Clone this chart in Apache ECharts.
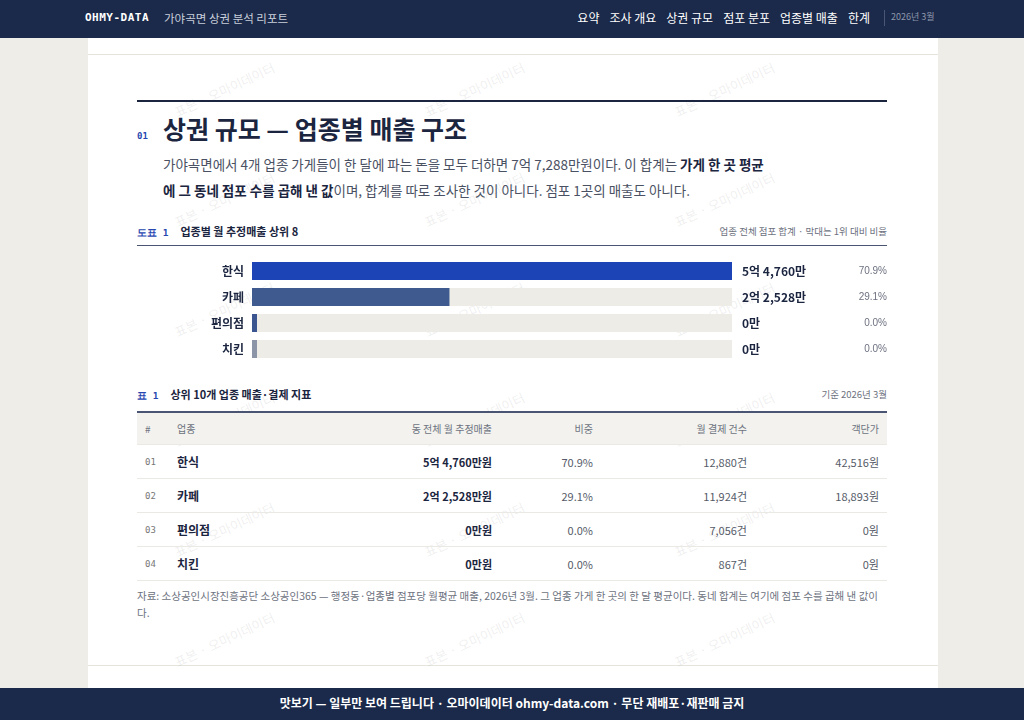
<!DOCTYPE html>
<html>
<head>
<meta charset="utf-8">
<script src="https://cdn.jsdelivr.net/npm/echarts@6.0.0/dist/echarts.min.js"></script>
<style>
  body, html { margin: 0; padding: 0; width: 1024px; height: 720px; overflow: hidden;
    background: #eeede8; font-family: "Noto Sans CJK KR", "Noto Sans", sans-serif; color: #1b2540; }
  #top { position: absolute; left: 0; top: 0; width: 1024px; height: 38px; background: #1b2a4a; color: #fff; }
  #top .brand { position: absolute; left: 85px; top: 11px; font: bold 11px "DejaVu Sans Mono", monospace; letter-spacing: 0.5px; }
  #top .sub { position: absolute; left: 164px; top: 10px; font-size: 11.5px; color: #c9cfdb; }
  #top .nav { position: absolute; right: 154px; top: 9px; font-size: 12px; }
  #top .nav span { margin-left: 10px; }
  #top .date { position: absolute; left: 884px; top: 10px; font-size: 9px; color: #8d97ab; border-left: 1px solid #4a5673; padding-left: 6px; height: 16px; }
  #card { position: absolute; left: 88px; top: 38px; width: 850px; height: 650px; background: #fff; }
  #card .hr0 { position: absolute; left: 0; top: 16px; width: 850px; border-top: 1px solid #e6e4dd; }
  #card .hr0b { position: absolute; left: 0; top: 627px; width: 850px; border-top: 1px solid #e6e4dd; }
  .abs { position: absolute; }
  #rule { left: 137px; top: 100px; width: 750px; border-top: 2px solid #1b2540; }
  #num { left: 137px; top: 131px; font: bold 9px "DejaVu Sans Mono", monospace; color: #2747b0; }
  #title { left: 163px; top: 110px; font-size: 25px; font-weight: bold; color: #1b2540; }
  #lead { left: 163px; top: 151px; width: 660px; font-size: 13.5px; line-height: 26px; color: #4a5163; }
  #lead b { color: #1b2540; }
  .caption { font-size: 11px; font-weight: bold; color: #1b2540; }
  .caption i { font-style: normal; font: bold 9.5px "DejaVu Sans Mono", monospace; color: #2747b0; margin-right: 12px; }
  .right { font-size: 9.5px; color: #6d7280; text-align: right; }
  #chart { left: 137px; top: 256px; width: 750px; height: 108px; }
  table { position: absolute; left: 137px; top: 411px; width: 750px; border-collapse: collapse; font-size: 11px; table-layout: fixed; }
  th, td { padding: 0; }
  th { height: 31px; background: #f3f2ee; font-weight: normal; color: #6d7280; font-size: 10px; border-top: 2px solid #4a5573; }
  td { height: 33px; border-top: 1px solid #ebe9e3; color: #555b68; }
  tr:last-child td { border-bottom: 1px solid #ebe9e3; }
  td.n { font: 9px "DejaVu Sans Mono", monospace; color: #777; padding-left: 8px; }
  td.k { font-weight: bold; color: #1b2540; font-size: 12px; }
  td.s { font-weight: bold; color: #1b2540; text-align: right; }
  .r { text-align: right; }
  #src { left: 137px; top: 587px; width: 750px; font-size: 10.5px; line-height: 17px; color: #6d7280; }
  #foot { left: 0; top: 688px; width: 1024px; height: 32px; background: #1b2a4a; color: #fff; font-size: 12px; font-weight: bold; text-align: center; line-height: 30px; }
  #wm { position: absolute; left: 0; top: 0; width: 1024px; height: 720px; pointer-events: none; overflow: hidden; }
  #wm span { position: absolute; transform: rotate(-25deg); font-size: 13px; color: rgba(120,120,120,0.12); white-space: nowrap; }
</style>
</head>
<body>
<div id="top">
  <div class="brand">OHMY-DATA</div>
  <div class="sub">가야곡면 상권 분석 리포트</div>
  <div class="nav"><span>요약</span><span>조사 개요</span><span>상권 규모</span><span>점포 분포</span><span>업종별 매출</span><span>한계</span></div>
  <div class="date">2026년 3월</div>
</div>
<div id="card"><div class="hr0"></div><div class="hr0b"></div></div>
<div id="wm"></div>
<div id="rule" class="abs"></div>
<div id="num" class="abs">01</div>
<div id="title" class="abs">상권 규모 — 업종별 매출 구조</div>
<div id="lead" class="abs">가야곡면에서 4개 업종 가게들이 한 달에 파는 돈을 모두 더하면 7억 7,288만원이다. 이 합계는 <b>가게 한 곳 평균<br>에 그 동네 점포 수를 곱해 낸 값</b>이며, 합계를 따로 조사한 것이 아니다. 점포 1곳의 매출도 아니다.</div>
<div class="abs caption" style="left:137px;top:223px"><i>도표 1</i>업종별 월 추정매출 상위 8</div>
<div class="abs right" style="left:587px;top:224px;width:300px">업종 전체 점포 합계 · 막대는 1위 대비 비율</div>
<div class="abs" style="left:137px;top:245px;width:750px;border-top:1px solid #4a5573"></div>
<div id="chart" class="abs"></div>
<div class="abs caption" style="left:137px;top:386px"><i>표 1</i>상위 10개 업종 매출·결제 지표</div>
<div class="abs right" style="left:587px;top:387px;width:300px">기준 2026년 3월</div>
<table id="tbl"></table>
<div id="src" class="abs">자료: 소상공인시장진흥공단 소상공인365 — 행정동·업종별 점포당 월평균 매출, 2026년 3월. 그 업종 가게 한 곳의 한 달 평균이다. 동네 합계는 여기에 점포 수를 곱해 낸 값이다.</div>
<div id="foot" class="abs">맛보기 — 일부만 보여 드립니다 · 오마이데이터 ohmy-data.com · 무단 재배포·재판매 금지</div>
<script>
var categories = ['한식', '카페', '편의점', '치킨'];
var salesMan = [54760, 22528, 0, 0];          // 월 추정매출, 만원
var salesLabel = ['5억 4,760만', '2억 2,528만', '0만', '0만'];
var shares = ['70.9%', '29.1%', '0.0%', '0.0%'];
var payCounts = ['12,880건', '11,924건', '7,056건', '867건'];
var unitPrice = ['42,516원', '18,893원', '0원', '0원'];
var barColors = ['#1c44b6', '#3f5a8e', '#3a5590', '#8c95a8'];

// table
var html = '<tr><th style="text-align:left;padding-left:8px;width:32px">#</th><th style="text-align:left;width:90px">업종</th>' +
  '<th class="r" style="width:225px">동 전체 월 추정매출</th><th class="r" style="width:101px">비중</th>' +
  '<th class="r" style="width:154px">월 결제 건수</th><th class="r" style="padding-right:8px">객단가</th></tr>';
categories.forEach(function (c, i) {
  html += '<tr><td class="n">0' + (i + 1) + '</td><td class="k">' + c + '</td><td class="s">' + salesLabel[i] + '원</td>' +
    '<td class="r">' + shares[i] + '</td><td class="r">' + payCounts[i] + '</td><td class="r" style="padding-right:8px">' + unitPrice[i] + '</td></tr>';
});
document.getElementById('tbl').innerHTML = html;

// watermark
var wm = document.getElementById('wm');
for (var y = 80; y < 680; y += 110) {
  for (var x = 60; x < 800; x += 250) {
    var s = document.createElement('span');
    s.style.left = (x + (y % 220 ? 110 : 0)) + 'px';
    s.style.top = y + 'px';
    s.textContent = '표본 · 오마이데이터';
    wm.appendChild(s);
  }
}

var maxVal = Math.max.apply(null, salesMan);
var chart = echarts.init(document.getElementById('chart'));
chart.setOption({
  animation: false,
  grid: { left: 115, right: 155, top: 2, bottom: 2 },
  xAxis: { type: 'value', max: maxVal, show: false },
  yAxis: {
    type: 'category', inverse: true, data: categories,
    axisLine: { show: false }, axisTick: { show: false },
    axisLabel: { color: '#1b2540', fontWeight: 'bold', fontSize: 12, margin: 8, fontFamily: 'Noto Sans CJK KR' }
  },
  series: [{
    type: 'bar', barWidth: 18, silent: true,
    data: categories.map(function () { return maxVal; }),
    itemStyle: { color: '#eeece6' },
    label: {
      show: true, position: 'right', distance: 10,
      formatter: function (p) { return '{v|' + salesLabel[p.dataIndex] + '}{p|' + shares[p.dataIndex] + '}'; },
      rich: {
        v: { width: 110, fontWeight: 'bold', fontSize: 12, color: '#1b2540', fontFamily: 'Noto Sans CJK KR' },
        p: { width: 35, align: 'right', fontSize: 10, color: '#6d7280' }
      }
    }
  }, {
    type: 'bar', barWidth: 18, barGap: '-100%', barMinHeight: 5,
    data: salesMan.map(function (v, i) { return { value: v, itemStyle: { color: barColors[i] } }; })
  }]
});
</script>
</body>
</html>
